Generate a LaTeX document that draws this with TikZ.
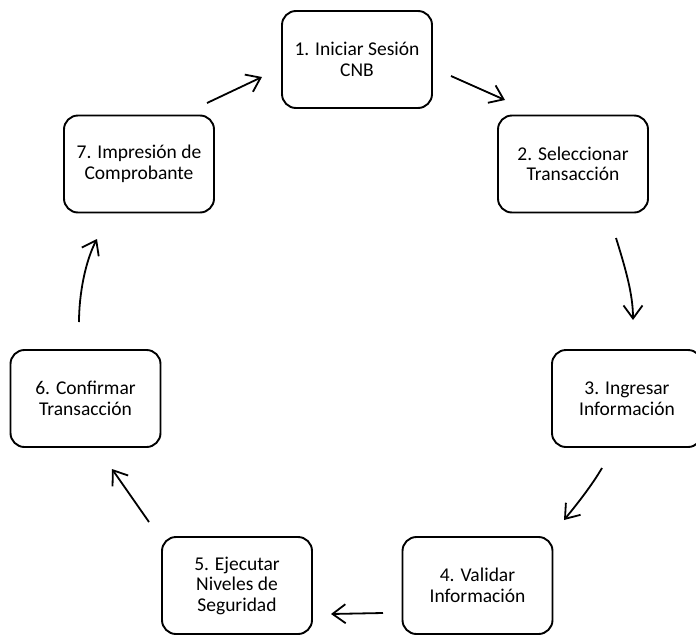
\documentclass[tikz,border=0pt]{standalone}
\usepackage{fontspec}
\setmainfont{Carlito}
\usetikzlibrary{arrows.meta}
\begin{document}
\begin{tikzpicture}[x=1pt,y=-1pt,
    paso/.style={draw,rounded corners=14pt,line width=1.9pt,minimum width=150pt,minimum height=97pt,
      align=center,inner sep=0pt,font=\fontsize{19.5}{20.5}\selectfont},
    flecha/.style={line width=1.8pt,-{Straight Barb[length=13pt,width=19pt,line width=1.8pt]}}]
  \useasboundingbox (0,0) rectangle (696,635);
  \node[paso] (n1) at (357,59.5) {1. Iniciar Sesión\\CNB};
  \node[paso] (n2) at (573,164) {2. Seleccionar\\Transacción};
  \node[paso] (n3) at (627,398.5) {3. Ingresar\\Información};
  \node[paso] (n4) at (477.5,585.5) {4. Validar\\Información};
  \node[paso] (n5) at (237,585.5) {5. Ejecutar\\Niveles de\\Seguridad};
  \node[paso] (n6) at (85.5,398.5) {6. Confirmar\\Transacción};
  \node[paso] (n7) at (139,164) {7. Impresión de\\Comprobante};
  % extremos de las flechas
  \coordinate (s12) at (451,76);  \coordinate (e12) at (505,100);
  \coordinate (s23) at (616,238); \coordinate (e23) at (633,320);
  \coordinate (s34) at (602,468); \coordinate (e34) at (564,520);
  \coordinate (s45) at (383,613); \coordinate (e45) at (331,614);
  \coordinate (s56) at (149,522); \coordinate (e56) at (112,469);
  \coordinate (s67) at (79,322);  \coordinate (e67) at (97,239);
  \coordinate (s71) at (207,103); \coordinate (e71) at (262,77);
  \draw[flecha] (s12) -- (e12);
  \draw[flecha] (s23) .. controls (626,270) and (633,295) .. (e23);
  \draw[flecha] (s34) .. controls (592,485) and (578,503) .. (e34);
  \draw[flecha] (s45) -- (e45);
  \draw[flecha] (s56) -- (e56);
  \draw[flecha] (s67) .. controls (79,295) and (85,262) .. (e67);
  \draw[flecha] (s71) -- (e71);
\end{tikzpicture}
\end{document}
